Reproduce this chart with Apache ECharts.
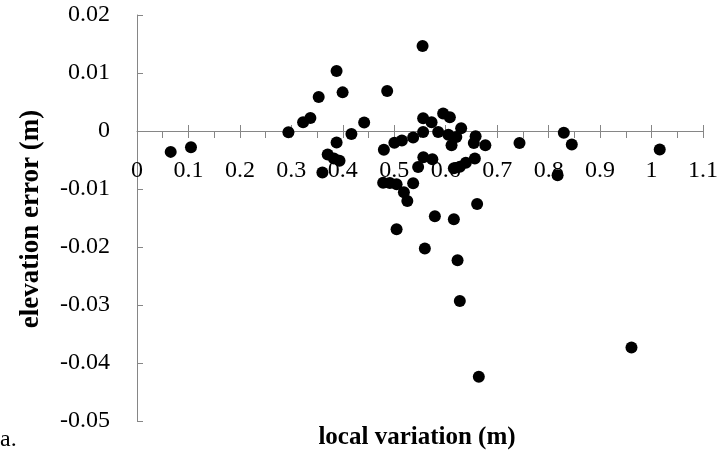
<!DOCTYPE html>
<html>
<head>
<meta charset="utf-8">
<script src="https://cdn.jsdelivr.net/npm/echarts@6/dist/echarts.min.js"></script>
<style>
html,body{margin:0;padding:0;background:#fff;}
#c{width:719px;height:457px;}
</style>
</head>
<body>
<div id="c"></div>
<script>
// local variation (m)
const localVariation = [
  0.0655, 0.1049, 0.2943, 0.3228, 0.3370, 0.3531, 0.3879, 0.3996, 0.4415, 0.4167,
  0.3879, 0.3706, 0.3827, 0.3936, 0.3603, 0.4862, 0.4798, 0.5002, 0.5148, 0.5367,
  0.5550, 0.5561, 0.5725, 0.5950, 0.6080, 0.6300, 0.5561, 0.5853, 0.6051, 0.6206,
  0.6113, 0.6581, 0.6546, 0.6770, 0.5565, 0.5740, 0.5464, 0.6158, 0.6274, 0.6391,
  0.6566, 0.4784, 0.4914, 0.5045, 0.5187, 0.5254, 0.5367, 0.5045, 0.5594, 0.5789,
  0.6158, 0.6610, 0.6230, 0.6274, 0.6643, 0.9610, 0.7434, 0.8295, 0.8450, 0.8174,
  1.0159
];
// elevation error (m)
const elevationError = [
  -0.0036, -0.0028, -0.0002, 0.0015, 0.00226, 0.00588, 0.01036, 0.00666, 0.00148, -0.0005,
  -0.00198, -0.00405, -0.00474, -0.00512, -0.00716, 0.00691, -0.00322, -0.00202, -0.00164, -0.00112,
  0.01467, 0.00221, 0.00152, 0.00302, 0.00238, 0.00048, -0.00016, -0.00016, -0.00064, -0.00102,
  -0.00245, -0.0009, -0.00205, -0.00245, -0.00452, -0.00486, -0.00619, -0.00641, -0.00616, -0.00547,
  -0.00474, -0.00891, -0.00895, -0.00917, -0.01055, -0.01205, -0.009, -0.01693, -0.02026, -0.01469,
  -0.01521, -0.01257, -0.02228, -0.02931, -0.04236, -0.03733, -0.00205, -0.00029, -0.00231, -0.00762,
  -0.00319
];
const xTitle = 'local variation (m)';
const yTitle = 'elevation error (m)';
const panelLabel = 'a.';

const points = localVariation.map((x, i) => [x, elevationError[i]]);
const serif = "'Liberation Serif', 'Times New Roman', serif";
const axisGray = '#868686';
const fmt = v => String(+v.toFixed(4)).replace('\u2212', '-');

// grid: top 15, bottom 36 in a 457px canvas -> plot height 406; y=0 lies 0.05/0.07 of the way up
const gridTop = 15, gridBottom = 36;
const plotH = 457 - gridTop - gridBottom;
const zeroOffset = -Math.round(plotH * (0 - (-0.05)) / (0.02 - (-0.05)));

const chart = echarts.init(document.getElementById('c'), null, {renderer: 'canvas'});
chart.setOption({
  animation: false,
  backgroundColor: '#fff',
  grid: {left: 137, right: 16, top: gridTop, bottom: gridBottom, containLabel: false, outerBoundsMode: 'none'},
  xAxis: [{
    type: 'value', position: 'bottom', offset: zeroOffset, min: 0, max: 1.1, interval: 0.1,
    axisLine: {show: true, onZero: false, lineStyle: {color: axisGray, width: 1}},
    axisTick: {show: true, inside: false, length: 7, lineStyle: {color: axisGray}},
    minorTick: {show: true, splitNumber: 2, length: 7, lineStyle: {color: axisGray}},
    axisLabel: {color: '#000', fontFamily: serif, fontSize: 24, margin: 28, formatter: fmt, hideOverlap: false},
    splitLine: {show: false}
  }, {
    type: 'value', position: 'bottom', offset: zeroOffset, min: 0, max: 1.1, interval: 0.1,
    axisLine: {show: false, onZero: false},
    axisTick: {show: true, inside: true, length: 6, lineStyle: {color: axisGray}},
    axisLabel: {show: false},
    splitLine: {show: false}
  }],
  yAxis: {
    type: 'value', min: -0.05, max: 0.02, interval: 0.01,
    axisLine: {show: true, onZero: false, lineStyle: {color: axisGray, width: 1}},
    axisTick: {show: true, inside: true, length: 6, lineStyle: {color: axisGray}},
    axisLabel: {color: '#000', fontFamily: serif, fontSize: 24, margin: 27, formatter: fmt, hideOverlap: false},
    splitLine: {show: false}
  },
  graphic: [
    {type: 'text', x: 417, y: 438, style: {text: xTitle, font: "bold 25px " + serif, fill: '#000', align: 'center', verticalAlign: 'middle'}},
    {type: 'text', rotation: Math.PI / 2, x: 31, y: 219, style: {text: yTitle, font: "bold 27px " + serif, fill: '#000', align: 'center', verticalAlign: 'middle'}},
    {type: 'text', x: 0, y: 440, style: {text: panelLabel, font: "24px " + serif, fill: '#000', align: 'left', verticalAlign: 'middle'}}
  ],
  series: [{
    type: 'scatter', xAxisIndex: 0, yAxisIndex: 0,
    data: points, symbol: 'circle', symbolSize: 12,
    itemStyle: {color: '#000', opacity: 1}
  }]
});
</script>
</body>
</html>
